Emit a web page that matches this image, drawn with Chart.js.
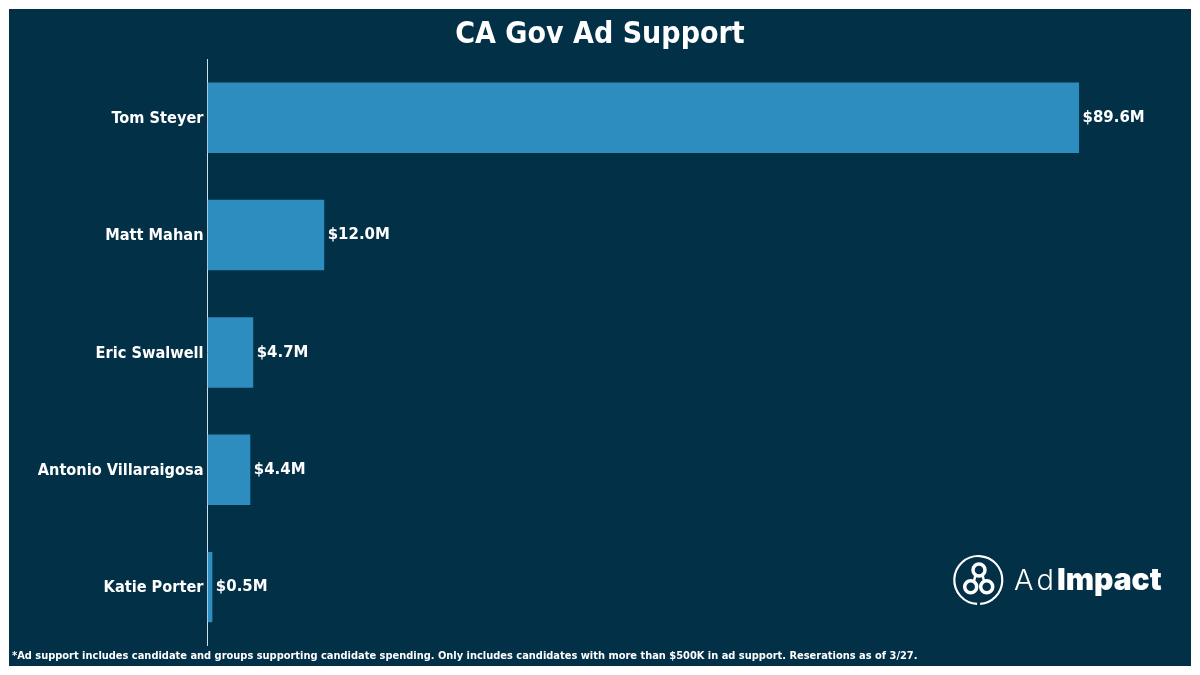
<!DOCTYPE html>
<html>
<head>
<meta charset="utf-8">
<script src="https://cdn.jsdelivr.net/npm/chart.js@4"></script>
<style>
    html, body { margin: 0; padding: 0; background: #ffffff; }
    #panel { position: absolute; left: 9px; top: 9px; width: 1182px; height: 657px; background: #023047; }
    #chart { position: absolute; left: 0; top: 0; }
</style>
</head>
<body>
<div id="panel"></div>
<canvas id="chart" width="1200" height="675"></canvas>
<script>
const candidates = ['Tom Steyer', 'Matt Mahan', 'Eric Swalwell', 'Antonio Villaraigosa', 'Katie Porter'];
const adSupport = [89.6, 12.0, 4.7, 4.4, 0.5];
const titleText = 'CA Gov Ad Support';
const footnote = '*Ad support includes candidate and groups supporting candidate spending. Only includes candidates with more than $500K in ad support. Reserations as of 3/27.';

const fontFamily = '"DejaVu Sans Condensed", "DejaVu Sans", sans-serif';

// value labels at the end of each bar
const barLabelPlugin = {
    id: 'barLabelPlugin',
    afterDatasetsDraw(chart) {
        const { ctx } = chart;
        ctx.save();
        ctx.fillStyle = '#ffffff';
        ctx.font = 'bold 16.6px ' + fontFamily;
        ctx.textAlign = 'left';
        ctx.textBaseline = 'middle';
        chart.getDatasetMeta(0).data.forEach((bar, i) => {
            ctx.fillText('$' + adSupport[i].toFixed(1) + 'M', bar.x + 3.5, bar.y);
        });
        ctx.restore();
    }
};

// AdImpact logo, bottom right
const logoPlugin = {
    id: 'logoPlugin',
    afterDraw(chart) {
        const { ctx } = chart;
        ctx.save();
        ctx.strokeStyle = '#ffffff';
        ctx.fillStyle = '#ffffff';
        ctx.lineWidth = 2.2;
        ctx.beginPath();
        ctx.arc(978.3, 580, 24, 1.62, 1.62 + Math.PI * 1.96);
        ctx.stroke();
        ctx.lineWidth = 3.5;
        [[979, 570], [970.7, 586.7], [986.7, 586.7]].forEach(([x, y]) => {
            ctx.beginPath();
            ctx.arc(x, y, 6, 0, Math.PI * 2);
            ctx.stroke();
        });
        ctx.lineWidth = 2.5;
        ctx.beginPath();
        ctx.moveTo(975.5, 575);
        ctx.lineTo(974, 581);
        ctx.moveTo(982.5, 575);
        ctx.lineTo(984, 581);
        ctx.stroke();
        ctx.textAlign = 'left';
        ctx.textBaseline = 'alphabetic';
        ctx.font = '300 29px Inter, Lato, sans-serif';
        ctx.letterSpacing = '3px';
        ctx.fillText('Ad', 1014, 590);
        ctx.letterSpacing = '0px';
        ctx.font = '900 30px Inter, Lato, sans-serif';
        ctx.fillText('Impact', 1057, 590);
        ctx.restore();
    }
};

new Chart(document.getElementById('chart').getContext('2d'), {
    type: 'bar',
    data: {
        labels: candidates,
        datasets: [{
            data: adSupport,
            backgroundColor: '#2e8dbf',
            categoryPercentage: 0.6,
            barPercentage: 1
        }]
    },
    options: {
        indexAxis: 'y',
        responsive: false,
        animation: { duration: 0 },
        layout: { padding: { left: 12, right: 12, top: 0, bottom: 0 } },
        plugins: {
            legend: { display: false },
            tooltip: { enabled: false },
            title: {
                display: true,
                text: titleText,
                color: '#ffffff',
                font: { family: fontFamily, size: 30, weight: 'bold' },
                padding: { top: 17, bottom: 6 }
            },
            subtitle: {
                display: true,
                text: footnote,
                position: 'bottom',
                align: 'start',
                color: '#ffffff',
                font: { family: fontFamily, size: 10.97, weight: 'bold' },
                padding: { top: 4, bottom: 12 }
            }
        },
        scales: {
            x: {
                display: false,
                min: 0,
                max: 100.8
            },
            y: {
                afterFit(axis) { axis.width = 195.5; },
                grid: { display: false, drawTicks: false },
                border: { color: '#cfe0ea', width: 1 },
                ticks: {
                    color: '#ffffff',
                    padding: 4,
                    labelOffset: 1,
                    font: { family: fontFamily, size: 16.2, weight: 'bold' }
                }
            }
        }
    },
    plugins: [barLabelPlugin, logoPlugin]
});
</script>
</body>
</html>
